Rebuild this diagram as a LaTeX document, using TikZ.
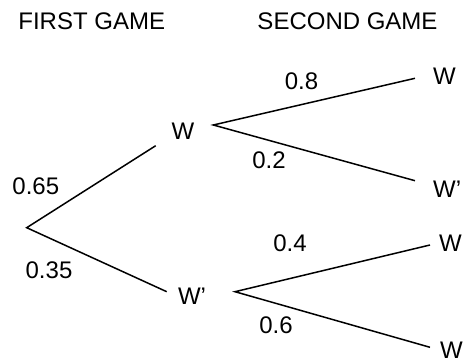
\documentclass[tikz,border=0pt]{standalone}
\usepackage{fontspec}
\setmainfont{Liberation Sans}
\begin{document}
\begin{tikzpicture}[x=1pt,y=-1pt,
  lbl/.style={inner sep=0pt,font=\fontsize{24}{24}\selectfont},
  outcome/.style={lbl,anchor=west},
  branch/.style={line width=1.5pt,black}]
\useasboundingbox (0,0) rectangle (463,363);

% column headings
\node[lbl] (first)  at (91.7,21.4)  {FIRST GAME};
\node[lbl] (second) at (347.5,21.4) {SECOND GAME};

% first game outcomes
\node[lbl] (w)  at (183,131) {W};
\node[lbl] (wp) at (192,296) {W’};

% second game outcomes
\node[outcome] (ww)   at (433,76)    {W};
\node[outcome] (wwp)  at (433,189)   {W’};
\node[outcome] (wpw)  at (439,243)   {W};
\node[outcome] (wpwp) at (440,350.6) {W};

% branch points and line ends
\coordinate (root) at (26.7,227.7);
\coordinate (toW)  at (155.7,145.7);
\coordinate (toWp) at (166.7,291.7);
\coordinate (fromW)  at (213.3,125);
\coordinate (fromWp) at (235,291.7);
\coordinate (endWW)   at (415,78.3);
\coordinate (endWWp)  at (415,180.7);
\coordinate (endWpW)  at (430,245);
\coordinate (endWpWp) at (430,347.3);

\draw[branch] (toW) -- (root) -- (toWp);
\draw[branch] (endWW) -- (fromW) -- (endWWp);
\draw[branch] (endWpW) -- (fromWp) -- (endWpWp);

% probabilities
\node[lbl] (p1) at (35.8,186.7) {0.65};
\node[lbl] (p2) at (49,270)     {0.35};
\node[lbl] (p3) at (301.5,81)   {0.8};
\node[lbl] (p4) at (269,160)    {0.2};
\node[lbl] (p5) at (290,243)    {0.4};
\node[lbl] (p6) at (276,325)    {0.6};
\end{tikzpicture}
\end{document}
